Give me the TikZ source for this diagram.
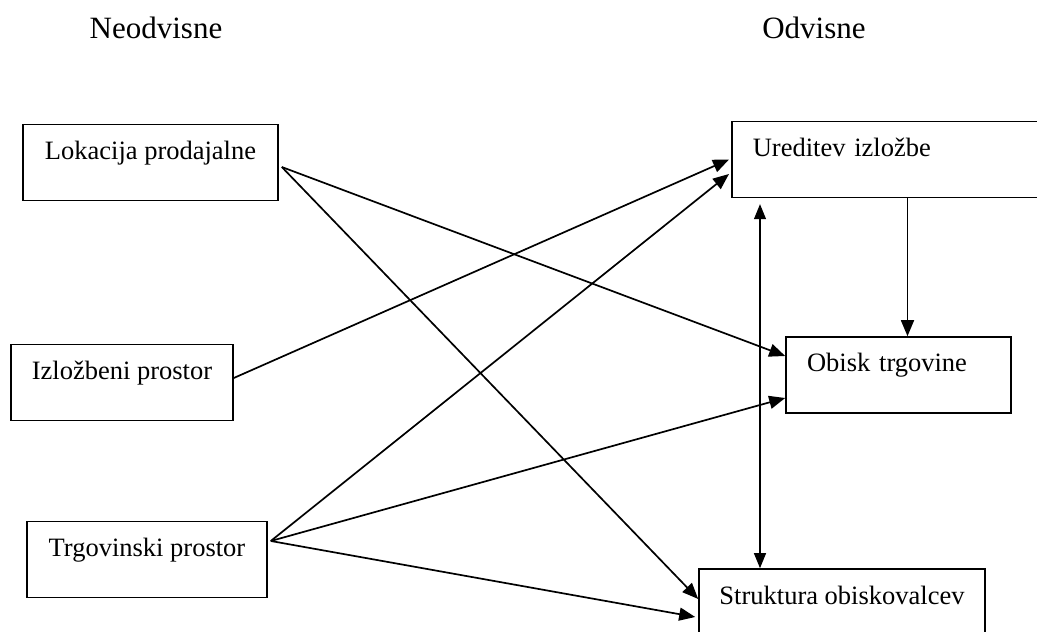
\documentclass[tikz,border=0pt]{standalone}
\usepackage{fontspec}
\setmainfont{Liberation Serif}
\usetikzlibrary{arrows.meta,positioning}

\begin{document}
\begin{tikzpicture}[x=1pt,y=1pt,>=Triangle]
\tikzset{
  var/.style={draw=black,line width=1.6pt,minimum height=76pt,
              text height=18pt,text depth=24pt,
              font=\fontsize{26.5}{30}\selectfont,align=center},
  varleft/.style={var,align=left,inner xsep=21pt},
  head/.style={font=\fontsize{31}{35}\selectfont,anchor=base},
  flow/.style={line width=1.7pt,-{Triangle[length=16pt,width=13pt]}},
  link/.style={line width=1.1pt,{Triangle[length=15pt,width=12pt]}-{Triangle[length=15pt,width=12pt]}}
}
\useasboundingbox (0,0) rectangle (1037,632);

% ---------- column heads ------------------------------------------------
\node[head] (neo) at (156,593) {Neodvisne};
\node[head] (odv) at (814,593) {Odvisne};

% ---------- independent variables --------------------------------------
\node[var,minimum width=255pt] (lok) at (150.5,469.5) {Lokacija prodajalne};
\node[var,minimum width=222pt] (izl) at (122,249.5) {Izložbeni prostor};
\node[var,minimum width=240pt] (trg) at (147,72.5) {Trgovinski prostor};

% ---------- dependent variables ----------------------------------------
\node[varleft,text width=272pt,anchor=west] (ure) at (731,472.5) {Ureditev izložbe};
\node[varleft,text width=183pt] (obi) at (898.5,257) {Obisk trgovine};
\node[var,minimum width=286pt,minimum height=77pt] (str) at (842,24.5) {Struktura obiskovalcev};

% ---------- connectors -------------------------------------------------
\draw[flow] ([shift={(3pt,-4.5pt)}]lok.east) -- ([yshift=19pt]obi.west);
\draw[flow] ([shift={(3pt,-4.5pt)}]lok.east) -- ([yshift=8.5pt]str.west);
\draw[flow] ([yshift=4.5pt]izl.east) -- ([xshift=-2pt]ure.west);
\draw[flow] ([shift={(3pt,18.5pt)}]trg.east) -- ([shift={(-2pt,-14.5pt)}]ure.west);
\draw[flow] ([shift={(3pt,18.5pt)}]trg.east) -- ([yshift=-23pt]obi.west);
\draw[flow] ([shift={(3pt,18.5pt)}]trg.east) -- ([shift={(-3pt,-9.5pt)}]str.west);
\draw[flow] ([xshift=9pt]obi.north |- ure.south) -- ([xshift=9pt]obi.north);
\draw[link] ([xshift=-82pt]str.north) -- ++(0,364);
\end{tikzpicture}
\end{document}
